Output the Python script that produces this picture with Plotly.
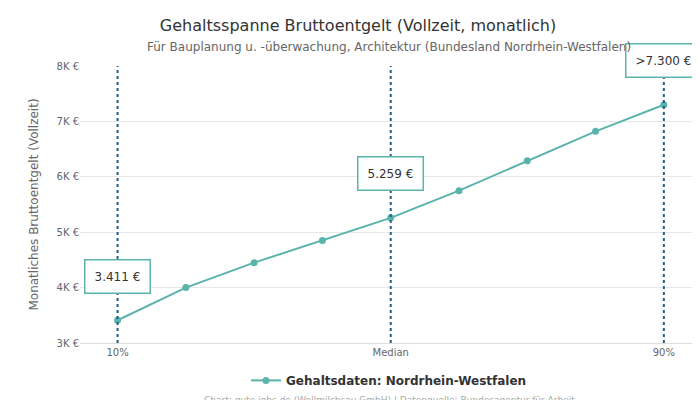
import plotly.graph_objects as go

x_pos = [0, 1, 2, 3, 4, 5, 6, 7, 8]
values = [3411, 4000, 4450, 4850, 5259, 5750, 6290, 6820, 7300]
tick_pos = [0, 4, 8]
tick_labels = ["10%", "Median", "90%"]
y_ticks = [3000, 4000, 5000, 6000, 7000, 8000]
y_labels = ["3K €", "4K €", "5K €", "6K €", "7K €", "8K €"]
marks = [(0, 3411, "3.411 €"), (4, 5259, "5.259 €"), (8, 7300, ">7.300 €")]

teal = "#5ab4ac"
fig = go.Figure()
fig.add_trace(go.Scatter(x=x_pos, y=values, mode="lines+markers",
                         line=dict(color=teal, width=2), marker=dict(size=7, color=teal),
                         name="<b>Gehaltsdaten: Nordrhein-Westfalen</b>"))
for xp, v, t in marks:
    fig.add_shape(type="line", x0=xp, x1=xp, y0=3000, y1=8000, xref="x", yref="y",
                  line=dict(color="#1f5f8b", width=2, dash="dot"))
    fig.add_annotation(x=xp, y=v, text=t, showarrow=False, yshift=44,
                       bgcolor="white", bordercolor=teal, borderwidth=1.5, borderpad=9,
                       font=dict(size=12, color="#333"))

fig.update_layout(
    width=700, height=400, plot_bgcolor="white", paper_bgcolor="white",
    font=dict(family="DejaVu Sans", color="#666", size=11),
    title=dict(text="Gehaltsspanne Bruttoentgelt (Vollzeit, monatlich)",
               x=0.5, xanchor="center", y=1 - 17 / 400, yanchor="middle", font=dict(size=16, color="#333")),
    margin=dict(l=72, r=10, t=58, b=65),
    xaxis=dict(range=[-0.55, 8.5], tickvals=tick_pos, ticktext=tick_labels, showgrid=False,
               zeroline=False, showline=True, linecolor="#ddd", tickfont=dict(size=10)),
    yaxis=dict(range=[3000, 8000], tickvals=y_ticks, ticktext=y_labels, gridcolor="#e8e8e8",
               zeroline=False, title=dict(text="Monatliches Bruttoentgelt (Vollzeit)", font=dict(size=12)),
               tickfont=dict(size=10)),
    showlegend=True,
    legend=dict(orientation="h", x=0.5, xanchor="center", y=-0.135, yanchor="middle",
                font=dict(size=12, color="#333")),
)
fig.add_annotation(text="Für Bauplanung u. -überwachung, Architektur (Bundesland Nordrhein-Westfalen)",
                   xref="paper", yref="paper", x=0.5, y=1 + 19 / 277, yanchor="middle", showarrow=False,
                   font=dict(size=12, color="#666"))
fig.add_annotation(text="Chart: gute-jobs.de (Wollmilchsau GmbH) | Datenquelle: Bundesagentur für Arbeit",
                   xref="paper", yref="paper", x=0.5, y=-0.205, yanchor="middle", showarrow=False,
                   font=dict(size=9, color="#aaa"))
fig.write_html("out.html")
